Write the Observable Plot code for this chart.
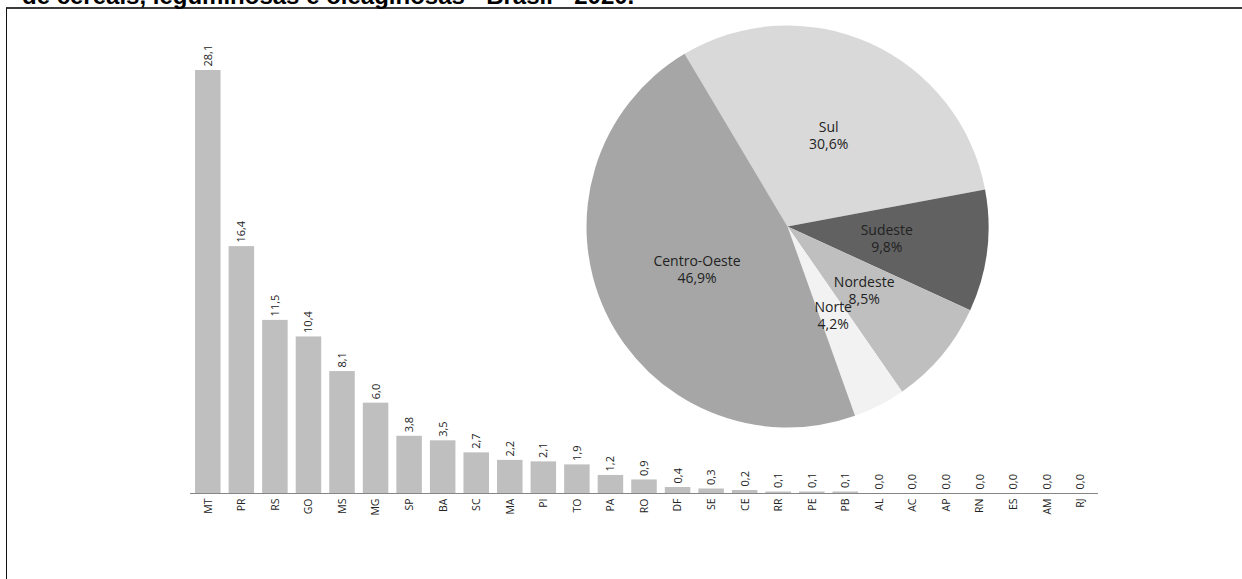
<!DOCTYPE html>
<html><head><meta charset="utf-8">
<script src="https://cdn.jsdelivr.net/npm/d3@7"></script>
<script src="https://cdn.jsdelivr.net/npm/@observablehq/plot@0.6"></script>
<style>
html,body{margin:0;padding:0;background:#fff;overflow:hidden}
#wrap{position:relative;width:1242px;height:579px;overflow:hidden;background:#fff}
#title{position:absolute;left:22px;top:-16px;font:bold 24px "Liberation Sans",Arial,sans-serif;line-height:24px;white-space:nowrap;color:#000}
#frame{position:absolute;left:6px;top:7px;width:1240px;height:580px;border-left:1px solid #111;border-top:2px solid #3a3a3a}
#chart{position:absolute;left:0;top:0}
</style></head><body>
<div id="wrap"><div id="chart"></div><div id="frame"></div><div id="title">de cereais, leguminosas e oleaginosas - Brasil - 2020.</div></div>
<script>
const states = ["MT","PR","RS","GO","MS","MG","SP","BA","SC","MA","PI","TO","PA","RO","DF","SE","CE","RR","PE","PB","AL","AC","AP","RN","ES","AM","RJ"];
const shares = [28.1,16.4,11.5,10.4,8.1,6.0,3.8,3.5,2.7,2.2,2.1,1.9,1.2,0.9,0.4,0.3,0.2,0.1,0.1,0.1,0.0,0.0,0.0,0.0,0.0,0.0,0.0];
const regions = ["Sul","Sudeste","Nordeste","Norte","Centro-Oeste"];
const regionShares = [30.6,9.8,8.5,4.2,46.9];
const regionColors = ["#d9d9d9","#616161","#bfbfbf","#f2f2f2","#a6a6a6"];

const fmt = v => v.toFixed(1).replace(".", ",");
const data = states.map((s, i) => ({state: s, value: shares[i]}));
const regionData = regions.map((r, i) => ({region: r, value: regionShares[i], color: regionColors[i]}));

const start = -30.8 * Math.PI / 180;
const pie = d3.pie().sort(null).value(d => d.value).startAngle(start).endAngle(start + 2 * Math.PI);

function pieMark() {
  const cx = 787.5, cy = 226.5, R = 201;
  const g = d3.create("svg:g").attr("transform", `translate(${cx},${cy})`);
  const arcs = pie(regionData);
  const arc = d3.arc().innerRadius(0).outerRadius(R);
  g.append("g").selectAll("path").data(arcs).join("path")
    .attr("d", arc).attr("fill", d => d.data.color);
  const la = d3.arc().innerRadius(100).outerRadius(100);
  const t = g.append("g").selectAll("text").data(arcs).join("text")
    .attr("transform", d => `translate(${la.centroid(d)})`)
    .attr("text-anchor", "middle")
    .attr("font-family", "Open Sans")
    .attr("font-size", 14)
    .attr("fill", "#222");
  t.append("tspan").attr("x", 0).attr("y", -8.5).attr("dy", "0.35em").text(d => d.data.region);
  t.append("tspan").attr("x", 0).attr("y", 8.5).attr("dy", "0.35em").text(d => fmt(d.data.value) + "%");
  return g.node();
}

const chart = Plot.plot({
  width: 1242, height: 579,
  marginLeft: 190, marginRight: 144, marginTop: 70, marginBottom: 86,
  style: {fontFamily: "Open Sans", fontSize: "10.5px", color: "#222", background: "transparent"},
  x: {domain: states, round: false, paddingInner: 0.24, paddingOuter: 0.15, label: null, tickSize: 0, tickRotate: -90, tickPadding: 5},
  y: {domain: [0, 28.1], axis: null},
  marks: [
    Plot.barY(data, {x: "state", y: "value", fill: "#bfbfbf"}),
    Plot.ruleY([0], {stroke: "#868686"}),
    Plot.text(data, {x: "state", y: "value", text: d => fmt(d.value), rotate: -90, textAnchor: "start", dy: -4, fontSize: 11, fill: "#222"}),
    pieMark
  ]
});
document.getElementById("chart").appendChild(chart);
</script>
</body></html>
